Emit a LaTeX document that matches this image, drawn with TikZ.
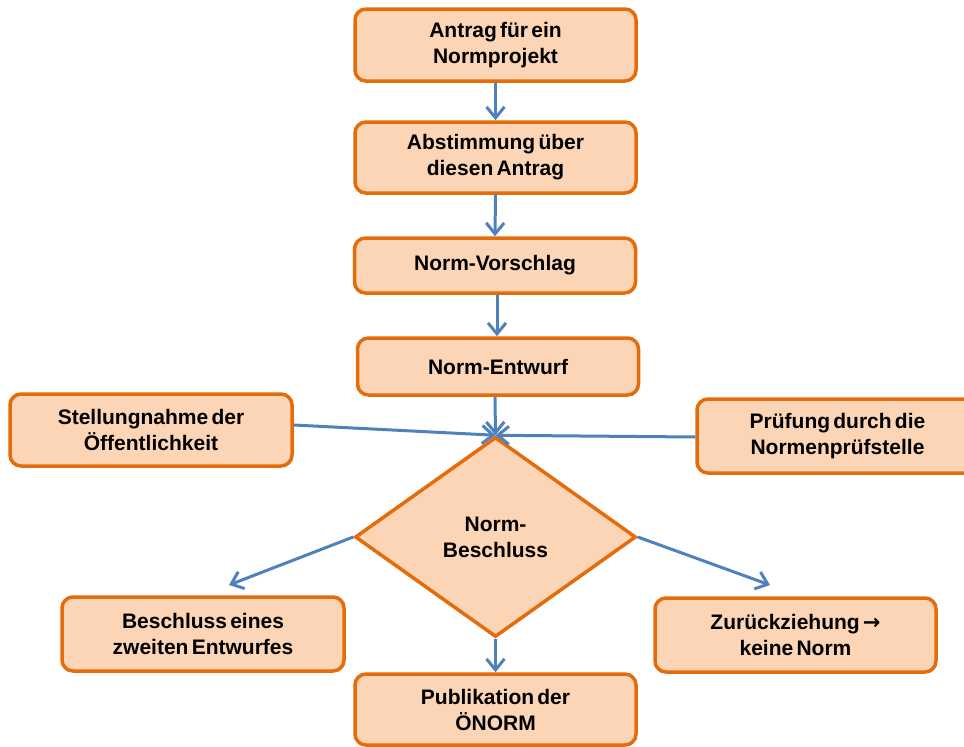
\documentclass[tikz,border=0pt]{standalone}
\usepackage{fontspec}
\setmainfont[WordSpace=0.55]{Liberation Sans}
\newfontfamily\symbolfont{DejaVu Sans}
\usetikzlibrary{shapes.geometric,arrows.meta}
\definecolor{boxline}{HTML}{E46C0A}
\definecolor{boxfill}{HTML}{FBD5B5}
\definecolor{flow}{HTML}{4F81BD}
\begin{document}
\begin{tikzpicture}[x=1pt,y=-1pt,
  stepbox/.style={draw=boxline, fill=boxfill, line width=3.5pt,
    rounded corners=11pt, minimum width=281pt, minimum height=72pt,
    align=center, inner sep=0pt,
    font=\fontsize{21}{26}\selectfont\bfseries},
  decision/.style={diamond, draw=boxline, fill=boxfill, line width=3.5pt,
    minimum width=281pt, minimum height=200pt, inner sep=0pt,
    align=center, font=\fontsize{21}{26}\selectfont\bfseries},
  flowarrow/.style={draw=flow, line width=3pt,
    -{Straight Barb[length=11pt,width=18pt]}}]
  \path[use as bounding box] (0,0) rectangle (964,747);
  \clip (0,0) rectangle (964,747);

  % main chain
  \node[stepbox, minimum height=72pt] (antrag) at (495.5,45) {Antrag für ein\\Normprojekt};
  \node[stepbox, minimum height=71pt] (abst) at (495.5,157.5) {Abstimmung über\\diesen Antrag};
  \node[stepbox, minimum height=55pt] (vorschlag) at (495,265.5) {Norm-Vorschlag};
  \node[stepbox, minimum height=57pt] (entwurf) at (498,366.5) {Norm-Entwurf};

  % side inputs
  \node[stepbox, minimum width=282pt] (stellung) at (151,430) {Stellungnahme der\\Öffentlichkeit};
  \node[stepbox, minimum height=74pt] (pruefung) at (837.5,436) {Prüfung durch die\\Normenprüfstelle};

  % decision
  \node[decision] (beschluss) at (495.5,537) {Norm-\\Beschluss};

  % outcomes
  \node[stepbox, minimum width=282pt, minimum height=74pt] (zweiter) at (203,634) {Beschluss eines\\zweiten Entwurfes};
  \node[stepbox, minimum height=74pt] (zurueck) at (795.5,635) {Zurückziehung {\symbolfont\bfseries →}\\keine Norm};
  \node[stepbox, minimum height=71pt] (publ) at (495.5,709.5) {Publikation der\\ÖNORM};

  \coordinate (tipL) at (229,585);
  \coordinate (tipR) at (770,585);

  % connectors
  \draw[flowarrow] (antrag.south) -- (abst.north);
  \draw[flowarrow] (abst.south) -- (vorschlag.north);
  \draw[flowarrow] ([xshift=2pt]vorschlag.south) -- ([xshift=-1pt]entwurf.north);
  \draw[flowarrow] ([xshift=-3pt]entwurf.south) -- (beschluss.north);
  \draw[flowarrow] ([yshift=5pt]stellung.east) -- (beschluss.north);
  \draw[flowarrow] ([yshift=-1pt]pruefung.west) -- (beschluss.north);
  \draw[flowarrow] (beschluss.west) -- (tipL);
  \draw[flowarrow] (beschluss.east) -- (tipR);
  \draw[flowarrow] (beschluss.south) -- (publ.north);
\end{tikzpicture}
\end{document}
